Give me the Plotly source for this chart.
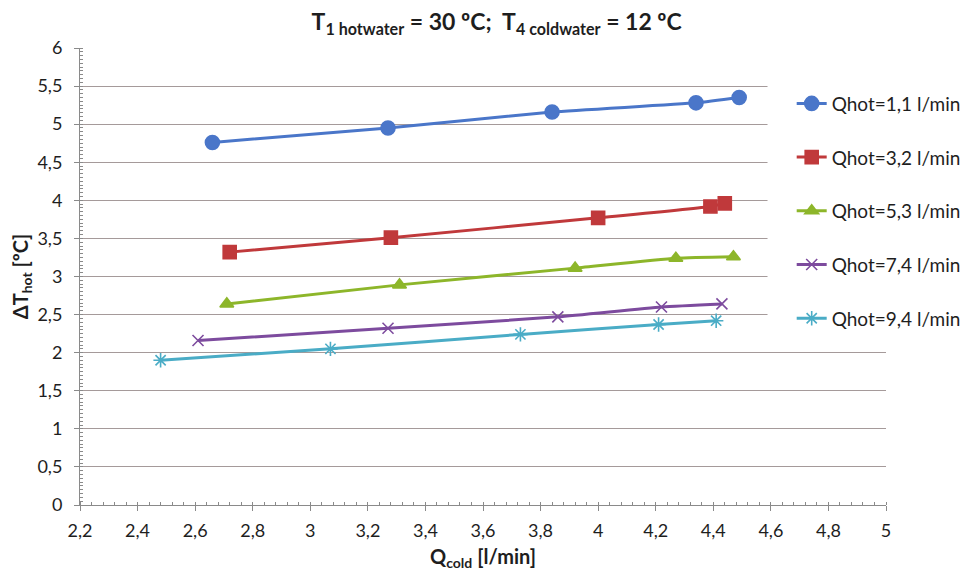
import plotly.graph_objects as go

# Data
series_names = ["Qhot=1,1 l/min", "Qhot=3,2 l/min", "Qhot=5,3 l/min", "Qhot=7,4 l/min", "Qhot=9,4 l/min"]

q_cold_1 = [2.66, 3.27, 3.84, 4.34, 4.49]
dt_hot_1 = [4.76, 4.95, 5.16, 5.28, 5.35]

q_cold_2 = [2.72, 3.28, 4.00, 4.39, 4.44]
dt_hot_2 = [3.32, 3.51, 3.77, 3.92, 3.96]

q_cold_3 = [2.71, 3.31, 3.92, 4.27, 4.47]
dt_hot_3 = [2.64, 2.89, 3.11, 3.24, 3.26]

q_cold_4 = [2.61, 3.27, 3.86, 4.22, 4.43]
dt_hot_4 = [2.16, 2.32, 2.47, 2.60, 2.64]

q_cold_5 = [2.48, 3.07, 3.73, 4.21, 4.41]
dt_hot_5 = [1.90, 2.05, 2.24, 2.37, 2.42]

xs = [q_cold_1, q_cold_2, q_cold_3, q_cold_4, q_cold_5]
ys = [dt_hot_1, dt_hot_2, dt_hot_3, dt_hot_4, dt_hot_5]

colors = ["#4A76C9", "#C0393B", "#8DB62A", "#7D4B9E", "#4AACC6"]
symbols = ["circle", "square", "triangle-up", "x-thin-open", "asterisk-open"]
sizes = [14, 13, 12, 11, 12]

FONT = "Lato, 'Open Sans', sans-serif"
TXT = "#1e1e1e"

fig = go.Figure()
for i in range(5):
    fig.add_trace(go.Scatter(
        x=xs[i], y=ys[i], name=series_names[i], legendgroup=str(i),
        mode="lines+markers",
        line=dict(color=colors[i], width=3, shape="spline", smoothing=0.5),
        marker=dict(symbol=symbols[i], size=sizes[i], color=colors[i],
                    line=dict(color=colors[i], width=1.6)),
    ))

axis_common = dict(
    showline=True, linecolor="#8a8a8a", linewidth=1,
    ticks="outside", ticklen=5, tickcolor="#8a8a8a",
    tickfont=dict(family=FONT, size=18, color=TXT),
    zeroline=False,
)

fig.update_xaxes(
    range=[2.2, 5], tick0=2.2, dtick=0.2, showgrid=False, ticklabelstandoff=4,
    minor=dict(dtick=0.04, tick0=2.2, ticks="inside", ticklen=3, tickcolor="#8a8a8a", showgrid=False),
    title=dict(text="<b>Q<sub>cold</sub> [l/min]</b>", font=dict(family=FONT, size=20, color=TXT), standoff=10),
    **axis_common,
)
fig.update_yaxes(
    range=[0, 6], tick0=0, dtick=0.5, showgrid=True, gridcolor="#a59a9a", gridwidth=1,
    ticklabelstandoff=8,
    minor=dict(dtick=0.05, ticks="inside", ticklen=3, tickcolor="#8a8a8a", showgrid=False),
    title=dict(text="<b>ΔT<sub>hot</sub> [ºC]</b>", font=dict(family=FONT, size=20, color=TXT), standoff=4),
    **axis_common,
)

# white legend area covering the gridlines behind the legend (as in the reference)
fig.add_shape(type="rect", xref="paper", yref="paper",
              x0=0.853, x1=1.0, y0=0.36, y1=0.974,
              fillcolor="white", line=dict(width=0), layer="above")

fig.update_layout(
    width=970, height=570,
    margin=dict(l=72, r=89, t=40, b=73),
    paper_bgcolor="white", plot_bgcolor="white",
    separators=", ",
    font=dict(family=FONT, color=TXT),
    title=dict(text="<b>T<sub>1 hotwater</sub> = 30 ºC;  T<sub>4 coldwater</sub> = 12 ºC</b>",
               x=0.517, xref="paper", xanchor="center", y=0.975, yanchor="middle",
               font=dict(family=FONT, size=23, color=TXT)),
    legend=dict(x=0.883, xanchor="left", y=0.92, yanchor="top",
                bgcolor="rgba(255,255,255,0)", font=dict(family=FONT, size=19, color=TXT),
                tracegroupgap=26, itemwidth=30),
)

fig.write_html("out.html")
